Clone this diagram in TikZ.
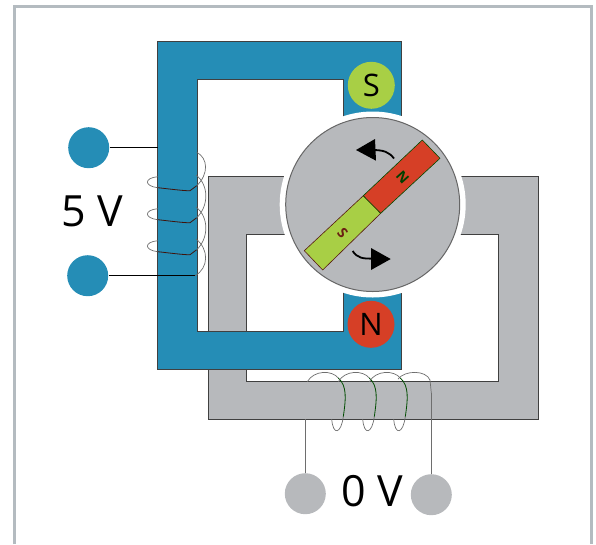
\documentclass[tikz,border=0pt]{standalone}
\usepackage{fontspec}
\usepackage{tikz}
\usepackage{xcolor}
\setmainfont{Open Sans}
\definecolor{coreblue}{HTML}{258DB6}
\definecolor{coregray}{HTML}{B7B9BC}
\definecolor{poleGreen}{HTML}{A8CF45}
\definecolor{poleRed}{HTML}{D63F26}
\definecolor{framegray}{HTML}{B4BBC0}
\definecolor{wiregray}{HTML}{6E6E6E}
\tikzset{
  terminal/.style={circle, fill=#1, minimum size=41pt, inner sep=0pt},
  polecap/.style={circle, fill=#1, minimum size=47pt, inner sep=0pt, font=\fontsize{31}{31}\selectfont},
  bigtext/.style={inner sep=0pt, font=\fontsize{43}{43}\selectfont},
  magtext/.style={rotate=-48, inner sep=0pt, font=\fontsize{14}{14}\selectfont\bfseries},
  coilwire/.style={draw=wiregray, line width=0.7pt},
  turnarrow/.style={line width=1.8pt}
}

\begin{document}
\begin{tikzpicture}[x=1pt, y=-1pt, line width=1pt]
    \useasboundingbox (0,0) rectangle (596,544);
    % outer frame
    \draw[framegray, line width=3pt] (14.5,544) -- (14.5,6.5) -- (591.5,6.5) -- (591.5,544);
    % gray core
    \draw[fill=coregray, draw=black!75] (208,176) -- (538,176) -- (538,419) -- (208,419) -- cycle;
    \fill[white] (246,234) rectangle (498,381);
    \fill[white] (300,170) rectangle (450,234);
    \draw[draw=black!75] (300,234) -- (246,234) -- (246,381) -- (498,381) -- (498,234) -- (450,234);
    % blue core
    \draw[fill=coreblue, draw=black!75] (157.5,41) -- (401,41) -- (401,140) -- (343,140) -- (343,79) -- (197,79)
          -- (197,331) -- (343,331) -- (343,270) -- (401,270) -- (401,369) -- (157.5,369) -- cycle;
    % air gap
    \fill[white] (372.7,204.5) circle (93);
    % rotor
    \draw[fill=coregray, draw=black!60] (372.7,204.5) circle (87);
    \draw[fill=poleGreen, draw=black!60!poleRed, line width=0.6pt] (363.3,195.7) -- (380.7,213.3) -- (322.7,270) -- (304.3,250.7) -- cycle;
    \draw[fill=poleRed, draw=black!70!green, line width=0.6pt] (422.3,140) -- (440,158.3) -- (380.7,213.3) -- (363.3,195.7) -- cycle;
    \node[magtext, text=black!50!poleRed] (magS) at (342.7,232.7) {S};
    \node[magtext, text=black!75!green] (magN) at (402.7,177.7) {N};
    % rotation arrows
    \draw[turnarrow] (394,158.5) .. controls (389,152) and (384,150) .. (372,150);
    \fill (356,150) -- (375,139) -- (376,160.7) -- cycle;
    \draw[turnarrow] (352.7,251) .. controls (357,258) and (363,259) .. (374,258.5);
    \fill (390.7,259) -- (371,248) -- (371,270) -- cycle;
    % pole caps
    \node[polecap=poleGreen] (capS) at (371.3,85.3) {S};
    \node[polecap=poleRed] (capN) at (371,324.3) {N};
    % terminals
    \node[terminal=coreblue] (termA) at (88.7,147.7) {};
    \node[terminal=coreblue] (termB) at (87.7,275.7) {};
    \node[terminal=coregray] (termC) at (305.3,493.7) {};
    \node[terminal=coregray] (termD) at (431.3,494.7) {};
    \node[bigtext] (lblFive) at (92.5,211.5) {5 V};
    \node[bigtext] (lblZero) at (372.5,491) {0 V};
    % blue coil
    \coordinate (coilA) at (157.5,147.7);
    \coordinate (coilB) at (195,275.7);
    \coordinate (coilC) at (305.3,419);
    \coordinate (coilD) at (431.3,393);
    \draw[black, line width=0.8pt] (termA) -- (coilA);
    \draw[black, line width=0.8pt] (termB) -- (coilB);
    \draw[coilwire] (196.7,152.3) .. controls (208,158) and (209,174) .. (196.7,185.7);
    \foreach \dy in {0,32,64} {
      \draw[coilwire] (157.7,176.7+\dy) .. controls (144,178+\dy) and (144,186+\dy) .. (157.7,187.7+\dy);
      \draw[line width=0.8pt, black!70!poleRed] (157.7,187.7+\dy) .. controls (170,189+\dy) and (185,191+\dy) .. (190,190.7+\dy) -- (196.7,185.7+\dy);
    }
    \foreach \dy in {0,32} {
      \draw[coilwire] (196,175+\dy) .. controls (209,185+\dy) and (209,206+\dy) .. (196.7,217.7+\dy);
    }
    \draw[coilwire] (196,239) .. controls (209,249) and (209,268) .. (coilB);
    % gray coil
    \draw[wiregray, line width=1pt] (termC) -- (coilC);
    \draw[wiregray, line width=1pt] (termD) -- (coilD);
    \foreach \dx in {0,31,62} {
      \draw[coilwire] (307.3+\dx,381.7) .. controls (314+\dx,370) and (332+\dx,370) .. (338.3+\dx,378);
      \draw[line width=0.8pt, black!70!green] (338.3+\dx,378) .. controls (347+\dx,386) and (346+\dx,398) .. (343.3+\dx,416.7);
      \draw[coilwire] (343.3+\dx,416.7) .. controls (341+\dx,434) and (333+\dx,436) .. (331.7+\dx,419);
    }
    \draw[coilwire] (398,379) .. controls (405,370) and (426,370) .. (430,380) -- (coilD);
  \end{tikzpicture}
\end{document}
